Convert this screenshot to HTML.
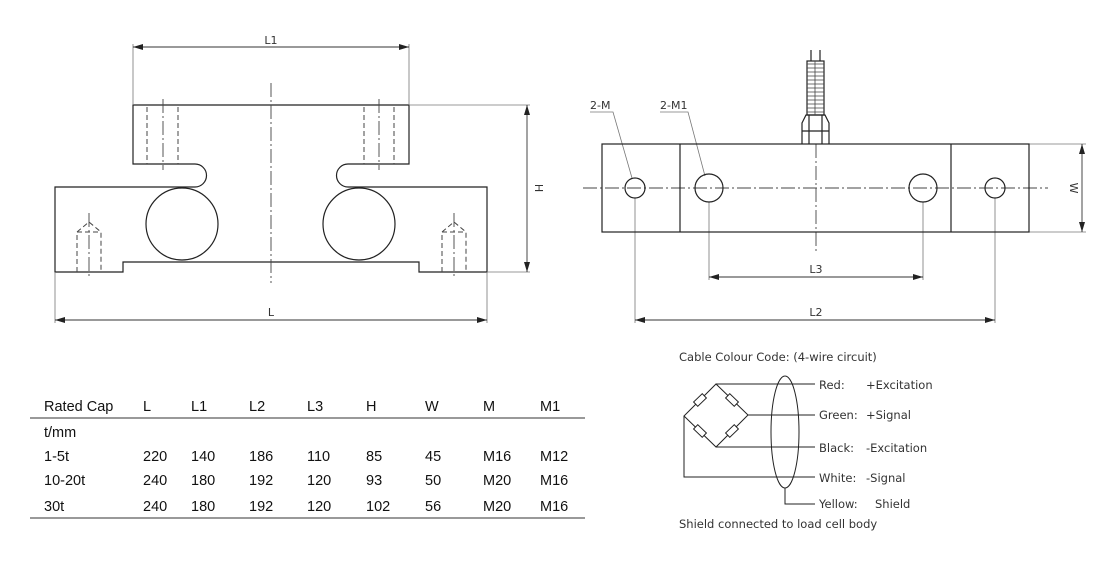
<!DOCTYPE html>
<html><head><meta charset="utf-8"><style>
html,body{margin:0;padding:0;background:#fff;}
svg{display:block}
.t{font-family:"Liberation Sans",sans-serif;font-size:14.5px;fill:#111}
.d{font-family:"DejaVu Sans",sans-serif;font-size:11px;fill:#333}
</style></head><body>
<svg width="1106" height="572" viewBox="0 0 1106 572" xmlns="http://www.w3.org/2000/svg">
<defs>
<marker id="a" markerWidth="10" markerHeight="6" refX="10" refY="3" orient="auto-start-reverse" markerUnits="userSpaceOnUse">
<path d="M0,0 L10,3 L0,6 z" fill="#222"/></marker>
</defs>
<g fill="none" stroke="#222" stroke-width="1.2">
<!-- left drawing -->
<path d="M133,105 H409 V164 H348 A11.5,11.5 0 0 0 348,187 H487 V272 H419 V262 H123 V272 H55 V187 H195 A11.5,11.5 0 0 0 195,164 H133 Z"/>
<circle cx="182" cy="224" r="36"/>
<circle cx="359" cy="224" r="36"/>
</g>
<g fill="none" stroke="#444" stroke-width="1" stroke-dasharray="5,3">
<line x1="147" y1="107" x2="147" y2="164"/><line x1="178" y1="107" x2="178" y2="164"/>
<line x1="364" y1="107" x2="364" y2="164"/><line x1="394" y1="107" x2="394" y2="164"/>
<path d="M77,272 V232 L89,222 L101,232 V272 M77,232 H101"/>
<path d="M442,272 V232 L454,222 L466,232 V272 M442,232 H466"/>
</g>
<g stroke="#444" stroke-width="0.9" stroke-dasharray="14,3,2,3" fill="none">
<line x1="271" y1="83" x2="271" y2="283"/>
<line x1="163" y1="99" x2="163" y2="170"/><line x1="379" y1="99" x2="379" y2="170"/>
<line x1="89" y1="213" x2="89" y2="279"/><line x1="454" y1="213" x2="454" y2="279"/>
<!-- right -->
<line x1="583" y1="188" x2="1048" y2="188"/>
<line x1="816" y1="144" x2="816" y2="253"/>
</g>
<g stroke="#777" stroke-width="0.8" fill="none">
<line x1="133" y1="44" x2="133" y2="105"/><line x1="409" y1="44" x2="409" y2="105"/>
<line x1="55" y1="272" x2="55" y2="323"/><line x1="487" y1="272" x2="487" y2="323"/>
<line x1="409" y1="105" x2="530" y2="105"/><line x1="487" y1="272" x2="530" y2="272"/>
<line x1="1029" y1="144" x2="1086" y2="144"/><line x1="1029" y1="232" x2="1086" y2="232"/>
<line x1="635" y1="198" x2="635" y2="323"/><line x1="995" y1="198" x2="995" y2="323"/>
<line x1="709" y1="202" x2="709" y2="280"/><line x1="923" y1="202" x2="923" y2="280"/>
<path d="M590,112 H613 L632,178"/><path d="M660,112 H688 L705,176"/>
</g>
<g stroke="#333" stroke-width="0.9" fill="none">
<line x1="133" y1="47" x2="409" y2="47" marker-start="url(#a)" marker-end="url(#a)"/>
<line x1="55" y1="320" x2="487" y2="320" marker-start="url(#a)" marker-end="url(#a)"/>
<line x1="527" y1="105" x2="527" y2="272" marker-start="url(#a)" marker-end="url(#a)"/>
<line x1="1082" y1="144" x2="1082" y2="232" marker-start="url(#a)" marker-end="url(#a)"/>
<line x1="709" y1="277" x2="923" y2="277" marker-start="url(#a)" marker-end="url(#a)"/>
<line x1="635" y1="320" x2="995" y2="320" marker-start="url(#a)" marker-end="url(#a)"/>
</g>
<g class="d" text-anchor="middle">
<text x="271" y="44">L1</text><text x="271" y="316">L</text>
<text x="816" y="273">L3</text><text x="816" y="316">L2</text>
<text transform="translate(535,188) rotate(90)">H</text>
<text transform="translate(1070,188) rotate(90)">W</text>
</g>
<g class="d"><text x="590" y="109">2-M</text><text x="660" y="109">2-M1</text></g>
<!-- right body -->
<g fill="none" stroke="#222" stroke-width="1.2">
<rect x="602" y="144" width="427" height="88"/>
<line x1="680" y1="144" x2="680" y2="232"/><line x1="951" y1="144" x2="951" y2="232"/>
<circle cx="635" cy="188" r="10"/><circle cx="995" cy="188" r="10"/>
<circle cx="709" cy="188" r="14"/><circle cx="923" cy="188" r="14"/>
<path d="M802,144 V123 L806,115 H825 L829,123 V144 M802,131 H829 M809,115 V144 M822,115 V144"/>
<rect x="807" y="61" width="17" height="54"/>
<line x1="811" y1="50" x2="811" y2="61"/><line x1="820" y1="50" x2="820" y2="61"/>
</g>
<g stroke="#444" stroke-width="0.8">
<path d="M807,64 H824 M807,68 H824 M807,72 H824 M807,76 H824 M807,80 H824 M807,84 H824 M807,88 H824 M807,92 H824 M807,96 H824 M807,100 H824 M807,104 H824 M807,108 H824 M807,112 H824 M815,61 V115"/>
</g>
<!-- wiring -->
<g fill="none" stroke="#222" stroke-width="1">
<path d="M716,384 L748,415 L716,447 L684,416 Z"/>
<path d="M716,384 H815 M748,415 H815 M716,447 H815 M684,416 V477 H815"/>
<ellipse cx="785" cy="432" rx="14" ry="56"/>
<path d="M785,488 V504 H815"/>
</g>
<g fill="#fff" stroke="#222" stroke-width="1">
<rect x="-6" y="-3" width="12" height="6" transform="translate(700,400) rotate(-44)"/>
<rect x="-6" y="-3" width="12" height="6" transform="translate(732,400) rotate(44)"/>
<rect x="-6" y="-3" width="12" height="6" transform="translate(700,431) rotate(44)"/>
<rect x="-6" y="-3" width="12" height="6" transform="translate(732,431) rotate(-44)"/>
</g>
<g class="d" style="font-size:11.5px">
<text x="679" y="361">Cable Colour Code: (4-wire circuit)</text>
<text x="819" y="389">Red:</text><text x="866" y="389">+Excitation</text>
<text x="819" y="419">Green:</text><text x="866" y="419">+Signal</text>
<text x="819" y="452">Black:</text><text x="866" y="452">-Excitation</text>
<text x="819" y="482">White:</text><text x="866" y="482">-Signal</text>
<text x="819" y="508">Yellow:</text><text x="875" y="508">Shield</text>
<text x="679" y="528">Shield connected to load cell body</text>
</g>
<!-- table -->
<line x1="30" y1="418" x2="585" y2="418" stroke="#333" stroke-width="1"/>
<line x1="30" y1="518" x2="585" y2="518" stroke="#333" stroke-width="1"/>
<g class="t">
<text x="44" y="411">Rated Cap</text><text x="143" y="411">L</text><text x="191" y="411">L1</text><text x="249" y="411">L2</text><text x="307" y="411">L3</text><text x="366" y="411">H</text><text x="425" y="411">W</text><text x="483" y="411">M</text><text x="540" y="411">M1</text>
<text x="44" y="437">t/mm</text>
<text x="44" y="461">1-5t</text><text x="143" y="461">220</text><text x="191" y="461">140</text><text x="249" y="461">186</text><text x="307" y="461">110</text><text x="366" y="461">85</text><text x="425" y="461">45</text><text x="483" y="461">M16</text><text x="540" y="461">M12</text>
<text x="44" y="485">10-20t</text><text x="143" y="485">240</text><text x="191" y="485">180</text><text x="249" y="485">192</text><text x="307" y="485">120</text><text x="366" y="485">93</text><text x="425" y="485">50</text><text x="483" y="485">M20</text><text x="540" y="485">M16</text>
<text x="44" y="511">30t</text><text x="143" y="511">240</text><text x="191" y="511">180</text><text x="249" y="511">192</text><text x="307" y="511">120</text><text x="366" y="511">102</text><text x="425" y="511">56</text><text x="483" y="511">M20</text><text x="540" y="511">M16</text>
</g>
</svg>
</body></html>
